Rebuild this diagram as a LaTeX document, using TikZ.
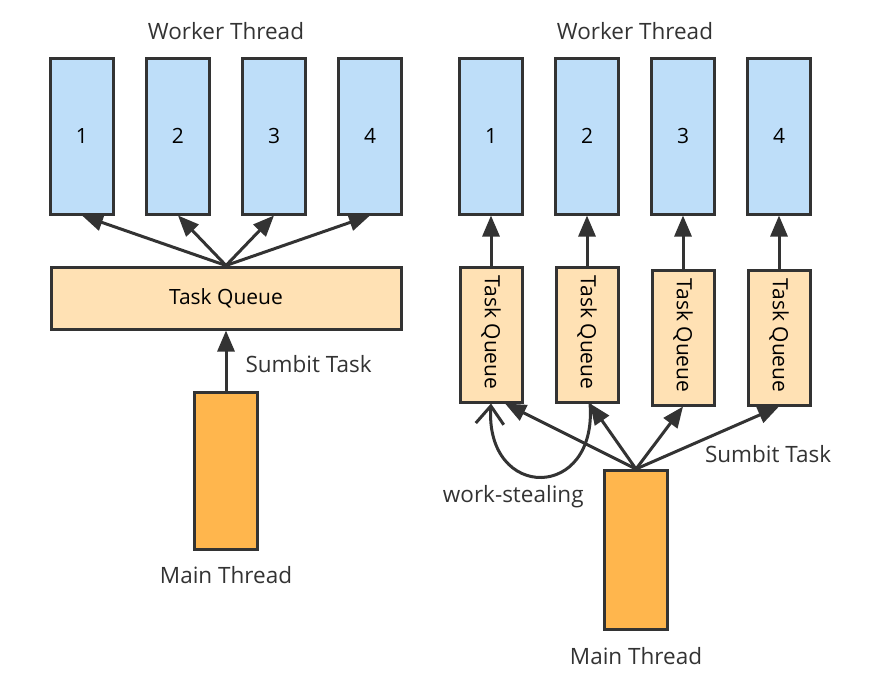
\documentclass[tikz,border=0pt]{standalone}
\usepackage{fontspec}
\setmainfont{Open Sans}
\usepackage{xcolor}
\usetikzlibrary{arrows.meta,positioning,calc}

\definecolor{wblue}{RGB}{190,222,249}
\definecolor{qtan}{RGB}{255,225,180}
\definecolor{morange}{RGB}{255,182,77}
\definecolor{ink}{RGB}{51,51,51}

\begin{document}
\begin{tikzpicture}[
  x=1pt, y=-1pt,
  font=\fontsize{22.5}{26}\selectfont,
  text=ink,
  node distance=30pt,
  wk/.style   ={draw=ink,line width=3pt,fill=wblue,minimum width=63pt,
                minimum height=156pt,inner sep=0pt,text=black,
                font=\fontsize{21}{24}\selectfont},
  tq/.style   ={draw=ink,line width=3pt,fill=qtan,inner sep=0pt,text=black,
                font=\fontsize{21}{24}\selectfont},
  mt/.style   ={draw=ink,line width=3pt,fill=morange,minimum width=63pt,
                minimum height=157pt,inner sep=0pt},
  lbl/.style  ={inner sep=2pt},
  arr/.style  ={draw=ink,line width=3pt,-{Triangle[length=21pt,width=17pt]}}]
\useasboundingbox (0,0) rectangle (885,696);

%---------------- Left : shared queue ----------------
\node[wk] (lw1) at (82,136) {1};
\node[wk, right=of lw1] (lw2) {2};
\node[wk, right=of lw2] (lw3) {3};
\node[wk, right=of lw3] (lw4) {4};
\node[lbl, above=15pt of $(lw2.north)!0.5!(lw3.north)$] (lwt) {Worker Thread};

\node[tq, minimum width=350pt, minimum height=62pt] (ltq) at (226,298) {Task Queue};
\draw[arr] (ltq.north) -- (lw1.south);
\draw[arr] (ltq.north) -- (lw2.south);
\draw[arr] (ltq.north) -- (lw3.south);
\draw[arr] (ltq.north) -- (lw4.south);

\node[mt] (lmt) at (226,471) {};
\node[lbl, below=13pt of lmt] (lmtl) {Main Thread};
\draw[arr] (lmt.north) -- node[lbl,right=16pt,pos=0.45] (lsub) {Sumbit Task} (ltq.south);

%---------------- Right : per-worker queues ----------------
\node[wk] (rw1) at (491,136) {1};
\node[wk, right=of rw1] (rw2) {2};
\node[wk, right=of rw2] (rw3) {3};
\node[wk, right=of rw3] (rw4) {4};
\node[lbl, above=15pt of $(rw2.north)!0.5!(rw3.north)$] (rwt) {Worker Thread};

\tikzset{rq/.style={tq, minimum width=62pt, minimum height=135pt,
  label={[rotate=-90,inner sep=0pt,text=black,font=\fontsize{21}{24}\selectfont,xshift=-2pt]center:Task Queue}}}
\node[rq, below=50pt of rw1] (rq1) {};
\node[rq, below=50pt of rw2] (rq2) {};
\node[rq, below=53pt of rw3] (rq3) {};
\node[rq, below=53pt of rw4] (rq4) {};
\draw[arr] (rq1.north) -- (rw1.south);
\draw[arr] (rq2.north) -- (rw2.south);
\draw[arr] (rq3.north) -- (rw3.south);
\draw[arr] (rq4.north) -- (rw4.south);

\node[mt, minimum height=159pt] (rmt) at (636,550) {};
\node[lbl, below=14pt of rmt] (rmtl) {Main Thread};
\draw[arr] (rmt.north) -- ([xshift=14pt]rq1.south);
\draw[arr] (rmt.north) -- ([xshift=3pt]rq2.south);
\draw[arr] (rmt.north) -- (rq3.south);
\draw[arr] (rmt.north) -- node[lbl,below right=4pt and -6pt,pos=0.5] (rsub) {Sumbit Task} (rq4.south);

% stealing loop from queue 2 back to queue 1
\draw[draw=ink,line width=3pt,-{Straight Barb[length=18pt,width=28pt]}]
  ([xshift=3pt]rq2.south) .. controls +(8,98) and +(-6,98) .. (rq1.south)
  node[lbl,pos=0.5,below=5pt,xshift=-28pt] (steal) {work-stealing};

\end{tikzpicture}
\end{document}
